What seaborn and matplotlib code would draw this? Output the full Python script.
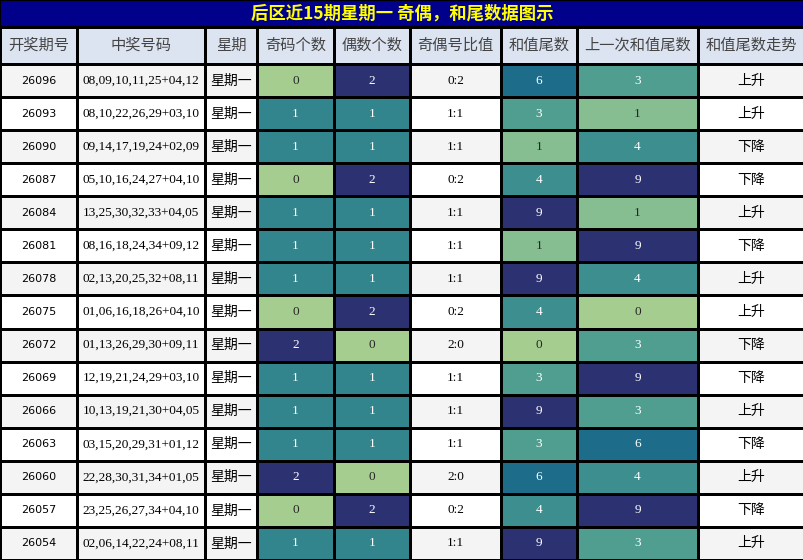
import matplotlib
matplotlib.use("Agg")
import matplotlib.pyplot as plt
from matplotlib.colors import ListedColormap
import numpy as np
import seaborn as sns

periods = ["26096", "26093", "26090", "26087", "26084", "26081", "26078", "26075",
           "26072", "26069", "26066", "26063", "26060", "26057", "26054"]
numbers = ["08,09,10,11,25+04,12", "08,10,22,26,29+03,10", "09,14,17,19,24+02,09",
           "05,10,16,24,27+04,10", "13,25,30,32,33+04,05", "08,16,18,24,34+09,12",
           "02,13,20,25,32+08,11", "01,06,16,18,26+04,10", "01,13,26,29,30+09,11",
           "12,19,21,24,29+03,10", "10,13,19,21,30+04,05", "03,15,20,29,31+01,12",
           "22,28,30,31,34+01,05", "23,25,26,27,34+04,10", "02,06,14,22,24+08,11"]
weekday = ["星期一"] * 15
odd_count = [0, 1, 1, 0, 1, 1, 1, 0, 2, 1, 1, 1, 2, 0, 1]
even_count = [2, 1, 1, 2, 1, 1, 1, 2, 0, 1, 1, 1, 0, 2, 1]
ratio = ["0:2", "1:1", "1:1", "0:2", "1:1", "1:1", "1:1", "0:2",
         "2:0", "1:1", "1:1", "1:1", "2:0", "0:2", "1:1"]
tail = [6, 3, 1, 4, 9, 1, 9, 4, 0, 3, 9, 3, 6, 4, 9]
prev_tail = [3, 1, 4, 9, 1, 9, 4, 0, 3, 9, 3, 6, 4, 9, 3]
trend = ["上升", "上升", "下降", "下降", "上升", "下降", "上升", "上升",
         "下降", "下降", "上升", "下降", "上升", "下降", "上升"]

headers = ["开奖期号", "中奖号码", "星期", "奇码个数", "偶数个数",
           "奇偶号比值", "和值尾数", "上一次和值尾数", "和值尾数走势"]
title = "后区近15期星期一 奇偶，和尾数据图示"

sns.set_theme(style="white")
cjk = ["Noto Sans CJK SC", "DejaVu Sans"]
plt.rcParams["font.family"] = cjk

W, H = 804, 560
edges = [0, 77, 205, 257, 334, 410, 501, 577, 698, 804]
title_h, head_bot = 27, 64
lw = 0.8

fig = plt.figure(figsize=(W / 100, H / 100), dpi=100)

# title bar
tax = fig.add_axes([0, 1 - title_h / H, 1, title_h / H])
tax.set_facecolor("#00008b")
tax.set_xticks([])
tax.set_yticks([])
for s in tax.spines.values():
    s.set_color("black")
    s.set_linewidth(1.5)
tax.text(0.5, 0.5, title, ha="center", va="center", color="#ffff00",
         fontsize=12.5, fontweight="bold", family=cjk, transform=tax.transAxes)

crest = sns.color_palette("crest", as_cmap=True)
stripe = ListedColormap(["#f4f4f4", "#ffffff"])
parity = (np.arange(15) % 2).reshape(-1, 1)

columns = [
    ("text", periods, {"family": "DejaVu Sans", "size": 8}),
    ("text", numbers, {"family": "Liberation Serif", "size": 9.5}),
    ("text", weekday, {"family": cjk, "size": 10}),
    ("num", odd_count, (0, 2)),
    ("num", even_count, (0, 2)),
    ("text", ratio, {"family": "Liberation Serif", "size": 9.5}),
    ("num", tail, (0, 9)),
    ("num", prev_tail, (0, 9)),
    ("text", trend, {"family": cjk, "size": 10}),
]

for i, (kind, vals, opt) in enumerate(columns):
    x0 = edges[i] / W
    w = (edges[i + 1] - edges[i]) / W

    hax = fig.add_axes([x0, 1 - head_bot / H, w, (head_bot - title_h) / H])
    sns.heatmap(np.zeros((1, 1)), ax=hax, cmap=ListedColormap(["#dce3f1"]),
                annot=np.array([[headers[i]]]), fmt="", cbar=False,
                linewidths=lw, linecolor="black",
                xticklabels=False, yticklabels=False,
                annot_kws={"color": "#444444", "fontsize": 11, "family": cjk})

    bax = fig.add_axes([x0, 0, w, (H - head_bot) / H])
    if kind == "num":
        sns.heatmap(np.array(vals).reshape(-1, 1), ax=bax, cmap=crest,
                    vmin=opt[0], vmax=opt[1], annot=True, fmt="d", cbar=False,
                    linewidths=lw, linecolor="black",
                    xticklabels=False, yticklabels=False,
                    annot_kws={"fontsize": 9.5, "family": "Liberation Serif"})
    else:
        sns.heatmap(parity, ax=bax, cmap=stripe, vmin=0, vmax=1,
                    annot=np.array(vals).reshape(-1, 1), fmt="", cbar=False,
                    linewidths=lw, linecolor="black",
                    xticklabels=False, yticklabels=False,
                    annot_kws={"color": "black", "fontsize": opt["size"],
                               "family": opt["family"]})

fig.savefig("out.png", dpi=100)
